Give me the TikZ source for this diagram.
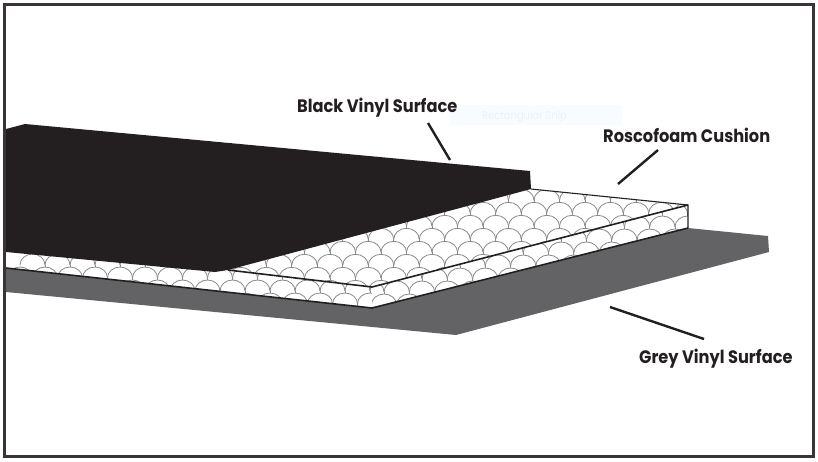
\documentclass[tikz,border=0pt]{standalone}
\usepackage{fontspec}
\setmainfont{Poppins}[FakeStretch=0.9]
\definecolor{inkblack}{HTML}{231F20}
\definecolor{slabgrey}{HTML}{636366}
\definecolor{scalegrey}{HTML}{8A8A8C}
\definecolor{snipfill}{HTML}{F8FBFF}
\definecolor{sniptext}{HTML}{EDF1F7}
\tikzset{
  frameline/.style={draw=inkblack!90,line width=3},
  leader/.style={draw=inkblack,line width=2.4},
  edgeline/.style={draw=inkblack,line width=1.1},
  midline/.style={draw=inkblack,line width=1.6},
  scaleline/.style={draw=scalegrey,line width=0.8},
  callout/.style={font=\fontsize{18}{20}\selectfont\bfseries,text=inkblack,inner sep=0pt,anchor=base west}
}
% x0, period, first row y, rows
\newcommand{\scalerows}[4]{%
  \foreach \r in {0,...,#4}{%
    \pgfmathsetmacro{\ry}{#3+13*\r}%
    \pgfmathsetmacro{\rx}{#1+mod(\r,2)*#2/2}%
    \foreach \c in {0,...,33}{%
      \pgfmathsetmacro{\cx}{\rx+\c*#2}%
      \draw[scaleline] (\cx-#2/2,\ry+11) arc[start angle=180,end angle=360,x radius=#2/2,y radius=11];
      \draw[scaleline] (\cx+#2/2,\ry+11) -- (\cx+#2/2,\ry+13);
    }%
  }%
}
\begin{document}
\begin{tikzpicture}[x=1pt,y=-1pt]
\useasboundingbox (0,0) rectangle (818,461);
\fill[white] (0,0) rectangle (818,461);
\fill[snipfill] (450,105) rectangle (622,125);
\node[font=\fontsize{11}{12}\selectfont,text=sniptext,inner sep=0pt,anchor=base west] (snip) at (482,119) {Rectangular Snip};

% grey slab
\fill[slabgrey] (6,268) -- (372,308) -- (688,228) -- (768,236) -- (769,252) -- (456,335) -- (6,292) -- cycle;

% foam: left front band
\begin{scope}
\clip (6,252) -- (215,271) -- (228,270) -- (372,287) -- (372,308) -- (6,268) -- cycle;
\scalerows{20}{25}{241}{6}
\end{scope}
% foam: top face
\begin{scope}
\clip (228,270) -- (531,189) -- (688,205) -- (372,287) -- cycle;
\scalerows{-14.25}{25.5}{189.3}{7}
\end{scope}
% foam: right front band
\begin{scope}
\clip (372,287) -- (688,205) -- (688,228) -- (372,308) -- cycle;
\scalerows{17.2}{25.3}{203}{8}
\end{scope}

% black top sheet
\fill[inkblack] (6,129) -- (25,124) -- (530,171) -- (531,189) -- (228,270) -- (215,272) -- (6,252) -- cycle;

% foam outlines
\coordinate (backcorner) at (531,189);
\coordinate (farcorner) at (688,205);
\coordinate (farbase) at (688,228);
\coordinate (midleft) at (228,270);
\coordinate (midcorner) at (372,287);
\coordinate (basecorner) at (372,308);
\coordinate (baseleft) at (6,268);
\draw[edgeline] (backcorner) -- (farcorner) -- (farbase);
\draw[midline] (midleft) -- (midcorner) -- (farcorner);
\draw[midline] (baseleft) -- (basecorner) -- (farbase);

% frame
\draw[frameline] (4.5,4.5) rectangle (813.5,456);

% labels
\node[callout] (blacklabel) at (297,112) {Black Vinyl Surface};
\node[callout] (foamlabel) at (603,142) {Roscofoam Cushion};
\node[callout] (greylabel) at (639,363) {Grey Vinyl Surface};

% leaders
\coordinate (bstart) at (428,123);
\coordinate (bend) at (450,160);
\coordinate (fstart) at (658,150);
\coordinate (fend) at (618,184);
\coordinate (gstart) at (704,339);
\coordinate (gend) at (610,307);
\draw[leader] (bstart) -- (bend);
\draw[leader] (fstart) -- (fend);
\draw[leader] (gstart) -- (gend);
\end{tikzpicture}
\end{document}
